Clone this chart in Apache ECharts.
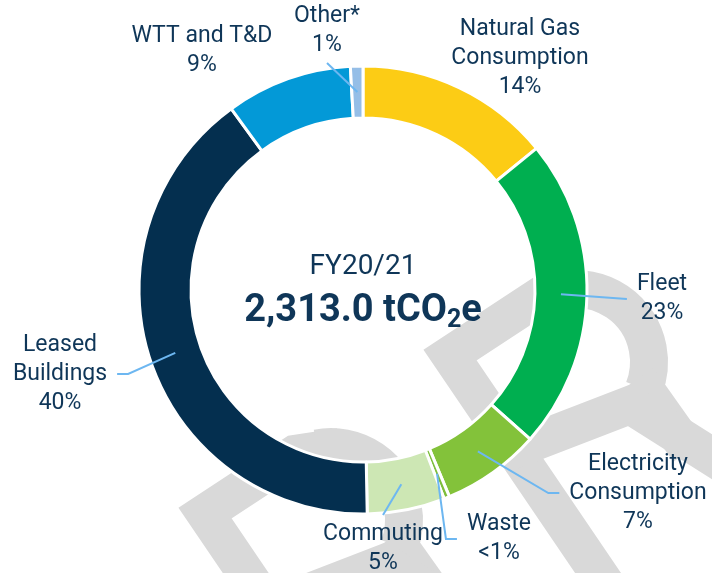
<!DOCTYPE html>
<html>
<head>
<meta charset="utf-8">
<script src="https://cdn.jsdelivr.net/npm/echarts@6/dist/echarts.min.js"></script>
<style>
  html, body { margin: 0; padding: 0; background: #fff; }
  #emissions_donut { width: 712px; height: 573px; }
</style>
</head>
<body>
<div id="emissions_donut"></div>
<script>
// data (share of total, %)
var categories = ['Natural Gas\nConsumption', 'Fleet', 'Electricity\nConsumption', 'Waste',
                  'Commuting', 'Leased\nBuildings', 'WTT and T&D', 'Other*'];
var shares = [14.1, 22.5, 7.1, 0.4, 5.6, 40.3, 9.1, 0.9];
var shareLabels = ['14%', '23%', '7%', '<1%', '5%', '40%', '9%', '1%'];
var periodLabel = 'FY20/21';
var totalLabel = '2,313.0';

var colors = ['#FCCC15', '#00AF50', '#83C23A', '#7DBE3C', '#CDE7B4', '#042F4F', '#0399D7', '#95BEE7'];
var textColor = '#0F3658';
var lineColor = '#6DB7F1';

var cx = 363, cy = 290, rIn = 172, rOut = 224;

// label layout: block centre + where the leader line meets the label
var labelPos = [[520, 58], [662, 299], [638, 493], [499, 539], [383, 549], [60, 374], [202, 51], [327, 31]];
var labelSide = [null, 'left', 'left', 'left', 'top', 'right', null, 'bottom'];
var elbow = [0, 0, 11, 11, 0, 11, 0, 0];

var myChart = echarts.init(document.getElementById('emissions_donut'));

// faint "R" watermark, drawn twice
function watermark(dx, dy) {
    var st = {stroke: '#D9D9D9', lineWidth: 38, fill: null, lineJoin: 'miter', lineCap: 'butt'};
    var a1 = Math.PI * 0.12;
    var ex = 576 + 73 * Math.cos(a1), ey = 362 + 73 * Math.sin(a1);
    return {
        type: 'group', x: dx, y: dy, silent: true,
        children: [
            // chevron stem
            {type: 'polyline', shape: {points: [[585, 289], [540, 296], [450, 355], [632, 623]]}, style: st},
            // bowl
            {type: 'arc', shape: {cx: 576, cy: 362, r: 73, startAngle: -Math.PI * 0.56, endAngle: a1, clockwise: true}, style: st},
            // leg
            {type: 'polyline', shape: {points: [[ex - 6, ey - 10], [ex + 45, ey + 62]]}, style: st},
            // bar back to the stem
            {type: 'polyline', shape: {points: [[508, 452], [630, 405], [760, 487]]}, style: st}
        ]
    };
}

var ringData = [], labelData = [];
for (var i = 0; i < categories.length; i++) {
    ringData.push({name: categories[i], value: shares[i], itemStyle: {color: colors[i]}});
    labelData.push({name: categories[i], value: shares[i], labelLine: {show: labelSide[i] !== null}});
}

function layoutLabel(params) {
    var i = params.dataIndex;
    var x = labelPos[i][0], y = labelPos[i][1];
    var w = params.labelRect.width, h = params.labelRect.height;
    var res = {x: x, y: y, align: 'center', verticalAlign: 'middle'};
    var pts = params.labelLinePoints;
    if (labelSide[i] && pts) {
        // start the leader in the middle of the ring
        var px = pts[0][0] - cx, py = pts[0][1] - cy;
        var d = Math.sqrt(px * px + py * py);
        var rm = (rIn + rOut) / 2;
        var start = [cx + px / d * rm, cy + py / d * rm];
        var end, mid;
        if (labelSide[i] === 'left') {
            end = [x - w / 2 - 10, y];
            mid = [end[0] - elbow[i], y];
        } else if (labelSide[i] === 'right') {
            end = [x + w / 2 + 10, y];
            mid = [end[0] + elbow[i], y];
        } else if (labelSide[i] === 'top') {
            end = [x, y - h / 2 - 5];
            mid = end;
        } else {
            end = [x, y + h / 2 + 3];
            mid = end;
        }
        res.labelLinePoints = [start, mid, end];
    }
    return res;
}

var option = {
    animation: false,
    graphic: [
        watermark(0, 0),
        watermark(-245, 158),
        {
            type: 'text', x: cx, y: 267, z: 100,
            style: {text: periodLabel, fill: textColor, font: '28px Roboto', align: 'center', verticalAlign: 'middle'}
        },
        {
            type: 'text', x: cx, y: 311, z: 100,
            style: {
                text: '{b|' + totalLabel + ' tCO}{s|2}{b|e}',
                align: 'center', verticalAlign: 'middle',
                rich: {
                    b: {fontSize: 38, fontWeight: 'bold', fontFamily: 'Roboto', fill: textColor, lineHeight: 44},
                    s: {fontSize: 25, fontWeight: 'bold', fontFamily: 'Roboto', fill: textColor, lineHeight: 22, verticalAlign: 'bottom'}
                }
            }
        }
    ],
    series: [
        {
            // the coloured ring
            type: 'pie',
            center: [cx, cy],
            radius: [rIn, rOut],
            startAngle: 90,
            clockwise: true,
            silent: true,
            emphasis: {disabled: true},
            itemStyle: {borderColor: '#ffffff', borderWidth: 3},
            label: {show: false},
            labelLine: {show: false},
            data: ringData
        },
        {
            // same slices, invisible, only to carry labels + leader lines on top
            type: 'pie',
            z: 3,
            center: [cx, cy],
            radius: [rIn, rOut],
            startAngle: 90,
            clockwise: true,
            silent: true,
            avoidLabelOverlap: false,
            emphasis: {disabled: true},
            itemStyle: {color: 'rgba(0,0,0,0)', borderWidth: 0},
            label: {
                show: true,
                position: 'outside',
                color: textColor,
                fontFamily: 'Roboto',
                fontSize: 23,
                lineHeight: 29,
                align: 'center',
                formatter: function (p) {
                    return p.name + '\n' + shareLabels[p.dataIndex];
                }
            },
            labelLine: {
                show: true,
                showAbove: true,
                lineStyle: {color: lineColor, width: 2}
            },
            labelLayout: layoutLabel,
            data: labelData
        }
    ]
};
myChart.setOption(option, true);
</script>
</body>
</html>
